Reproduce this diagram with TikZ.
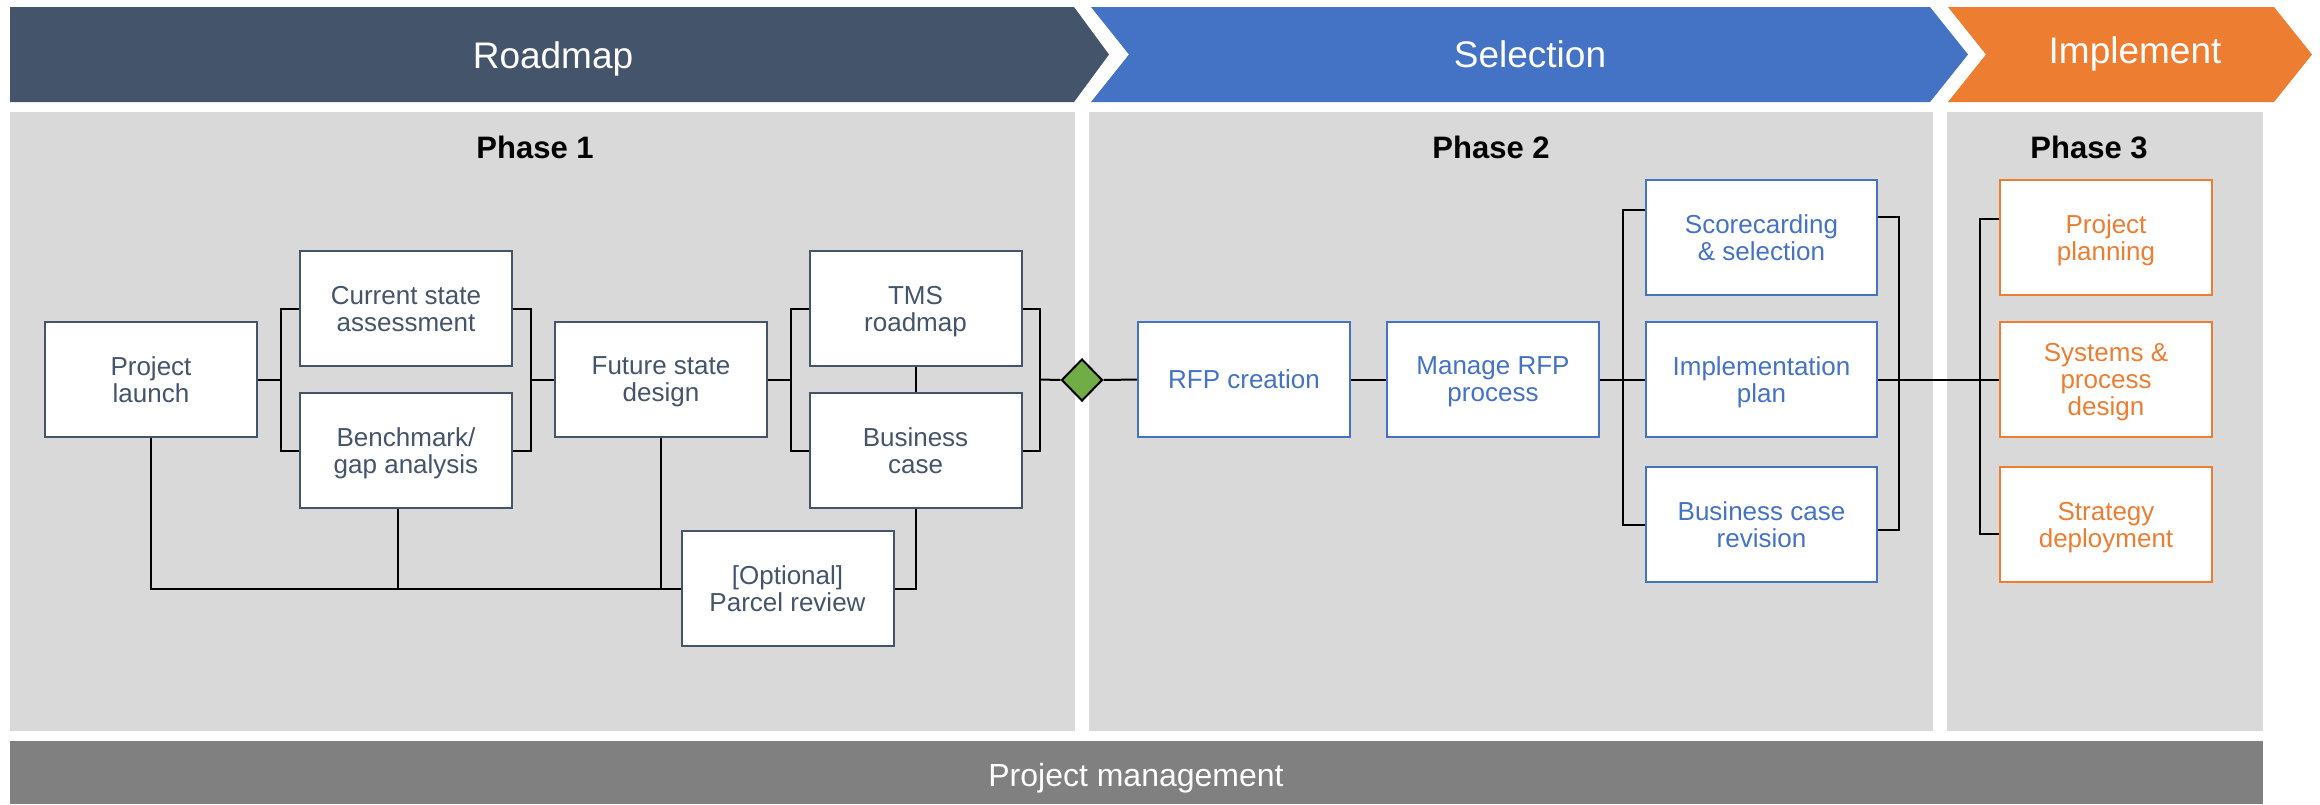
\documentclass[tikz,border=0pt]{standalone}
\usepackage{fontspec}
\setmainfont{Liberation Sans}
\usetikzlibrary{shapes.geometric}
\definecolor{slate}{HTML}{44546A}
\definecolor{selblue}{HTML}{4472C4}
\definecolor{impor}{HTML}{ED7D31}
\definecolor{panelgray}{HTML}{D9D9D9}
\definecolor{pmgray}{HTML}{808080}
\definecolor{gategreen}{HTML}{70AD47}
\begin{document}
\begin{tikzpicture}[x=0.5pt,y=-0.5pt,
  box/.style={draw, fill=white, line width=1pt, minimum width=106pt, minimum height=57.5pt,
    inner sep=0pt, align=center, text depth=0pt, font=\fontsize{13}{13.5}\selectfont},
  pone/.style={box, draw=slate, text=slate},
  ptwo/.style={box, draw=selblue, text=selblue},
  pthree/.style={box, draw=impor, text=impor},
  wide/.style={minimum width=115.5pt},
  conn/.style={line width=1pt, black},
  chevtext/.style={anchor=base, text=white, font=\fontsize{18.5}{20}\selectfont},
  phasetext/.style={anchor=base, text=black, font=\fontsize{15.5}{17}\selectfont\bfseries},
  panel/.style={fill=panelgray, draw=none}]
\useasboundingbox[fill=white] (0,0) rectangle (2320,804);
% chevrons
\fill[slate] (10,7) -- (1074,7) -- (1109,54.5) -- (1074,102) -- (10,102) -- cycle;
\fill[selblue] (1091,7) -- (1930,7) -- (1968,54.5) -- (1930,102) -- (1091,102) -- (1129,54.5) -- cycle;
\fill[impor] (1948,7) -- (2274,7) -- (2312,54.5) -- (2274,102) -- (1948,102) -- (1986,54.5) -- cycle;
\node[chevtext] (troad) at (553,68) {Roadmap};
\node[chevtext] (tsel) at (1530,67) {Selection};
\node[chevtext] (timp) at (2135,63) {Implement};
% panels
\fill[panel] (10,112) rectangle (1075,731);
\fill[panel] (1089,112) rectangle (1933,731);
\fill[panel] (1947,112) rectangle (2263,731);
\fill[pmgray] (10,741) rectangle (2263,804);
\node[anchor=base, text=white, font=\fontsize{16}{18}\selectfont] (pm) at (1136,786) {Project management};
\node[phasetext] (ph1) at (535,158) {Phase 1};
\node[phasetext] (ph2) at (1491,158) {Phase 2};
\node[phasetext] (ph3) at (2089,158) {Phase 3};
% phase 1 boxes
\node[pone] (launch) at (151,379.5) {Project\\launch};
\node[pone] (current) at (406,308.5) {Current state\\assessment};
\node[pone] (bench) at (406,450.5) {Benchmark/\\gap analysis};
\node[pone] (future) at (661,379.5) {Future state\\design};
\node[pone] (tms) at (915.5,308.5) {TMS\\roadmap};
\node[pone] (bcase) at (915.5,450.5) {Business\\case};
\node[pone] (parcel) at (787.5,588.5) {[Optional]\\Parcel review};
% phase 2 boxes
\node[ptwo] (rfp) at (1244,379.5) {RFP creation};
\node[ptwo] (manage) at (1493,379.5) {Manage RFP\\process};
\node[ptwo, wide] (score) at (1761.5,237.5) {Scorecarding\\\& selection};
\node[ptwo, wide] (impl) at (1761.5,379.5) {Implementation\\plan};
\node[ptwo, wide] (bcrev) at (1761.5,524.5) {Business case\\revision};
% phase 3 boxes
\node[pthree] (ppl) at (2106,237.5) {Project\\planning};
\node[pthree] (sys) at (2106,379.5) {Systems \&\\process\\design};
\node[pthree] (strat) at (2106,524.5) {Strategy\\deployment};
% gate
\node[diamond, draw=black, line width=1pt, fill=gategreen, inner sep=0pt,
  minimum width=20.5pt, minimum height=21pt] (gate) at (1082,380) {};
% connector coordinates
\coordinate (b1) at (281,379.5);
\coordinate (b2) at (531,379.5);
\coordinate (b3) at (791,379.5);
\coordinate (b4) at (1040,379.5);
\coordinate (b5t) at (1623,210);
\coordinate (b5b) at (1623,525);
\coordinate (b6t) at (1899,217);
\coordinate (b6b) at (1899,530);
\coordinate (b7t) at (1980,219);
\coordinate (b7b) at (1980,534);
\coordinate (benchfoot) at ([xshift=-4pt]bench.south);
% phase 1 connectors
\draw[conn] (launch.east) -- (b1);
\draw[conn] (current.west) -| (b1) |- (bench.west);
\draw[conn] (current.east) -| (b2) |- (bench.east);
\draw[conn] (b2) -- (future.west);
\draw[conn] (future.east) -- (b3);
\draw[conn] (tms.west) -| (b3) |- (bcase.west);
\draw[conn] (tms.south) -- (bcase.north);
\draw[conn] (tms.east) -| (b4) |- (bcase.east);
\draw[conn] (b4) -- (gate.west);
\draw[conn] (launch.south) |- (parcel.west);
\draw[conn] (benchfoot) -- (benchfoot |- parcel.west);
\draw[conn] (future.south) -- (future.south |- parcel.west);
\draw[conn] (parcel.east) -| (bcase.south);
% phase 2 connectors
\draw[conn] (gate.east) -- (rfp.west);
\draw[conn] (rfp.east) -- (manage.west);
\draw[conn] (manage.east) -- (impl.west);
\draw[conn] (score.west |- b5t) -- (b5t) -- (b5b) -- (bcrev.west |- b5b);
\draw[conn] (score.east |- b6t) -- (b6t) -- (b6b) -- (bcrev.east |- b6b);
\draw[conn] (impl.east) -- (sys.west);
% phase 3 connectors
\draw[conn] (ppl.west |- b7t) -- (b7t) -- (b7b) -- (strat.west |- b7b);
\end{tikzpicture}
\end{document}
